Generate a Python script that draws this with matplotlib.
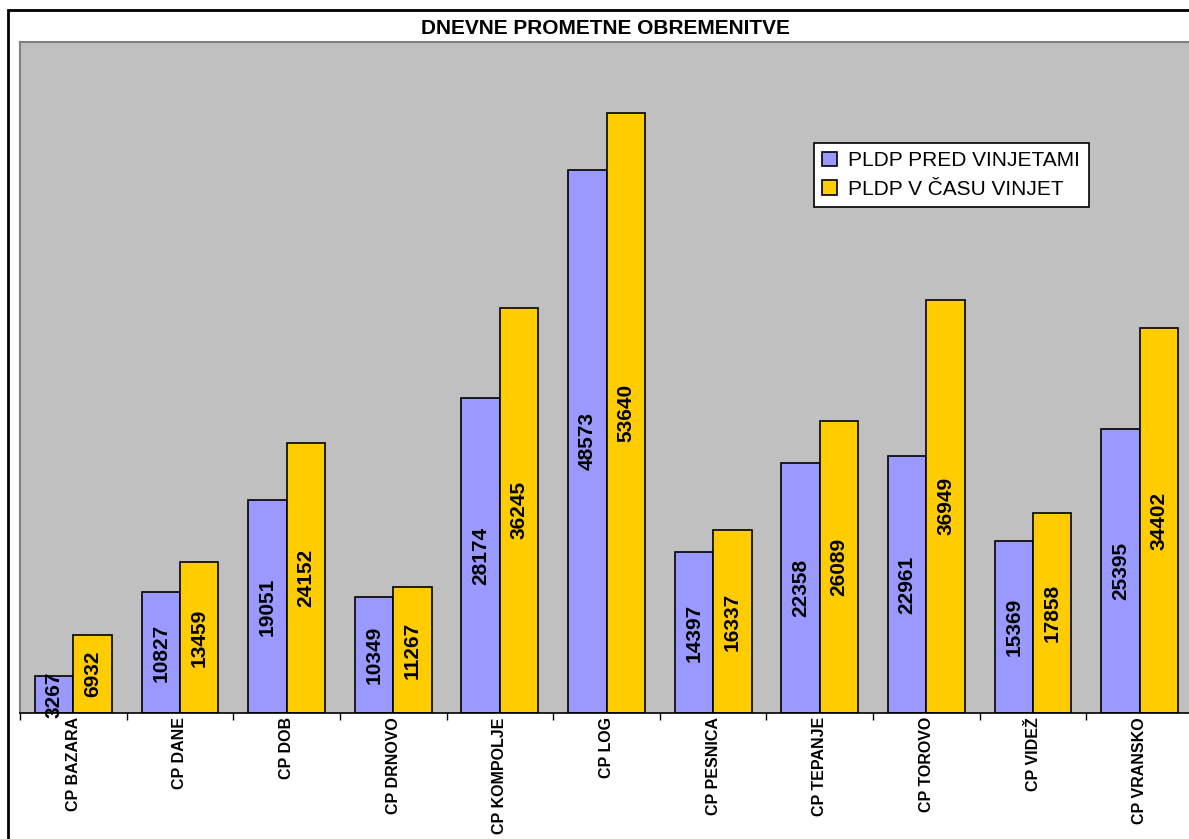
import matplotlib
matplotlib.use('Agg')

import matplotlib.pyplot as plt
from matplotlib.patches import Rectangle

plt.rcParams['font.family'] = ['Liberation Sans', 'DejaVu Sans']

# podatki
postaje = ['CP BAZARA', 'CP DANE', 'CP DOB', 'CP DRNOVO', 'CP KOMPOLJE', 'CP LOG',
           'CP PESNICA', 'CP TEPANJE', 'CP TOROVO', 'CP VIDEŽ', 'CP VRANSKO']
pred_vinjetami = [3267, 10827, 19051, 10349, 28174, 48573, 14397, 22358, 22961, 15369, 25395]
cas_vinjet = [6932, 13459, 24152, 11267, 36245, 53640, 16337, 26089, 36949, 17858, 34402]
serije = ['PLDP PRED VINJETAMI', 'PLDP V ČASU VINJET']

BARVE = ['#9999FF', '#FFCC00']

fig = plt.figure(figsize=(11.89, 8.39), dpi=100)
ax = fig.add_axes([20 / 1189, 1 - 713 / 839, 1173 / 1189, (713 - 42) / 839])
ax.set_facecolor('#C0C0C0')

sirina = 0.36
x = list(range(len(postaje)))
for k, (vrednosti, barva) in enumerate(zip([pred_vinjetami, cas_vinjet], BARVE)):
    pos = [i + (k - 0.5) * sirina for i in x]
    ax.bar(pos, vrednosti, width=sirina, color=barva, edgecolor='black',
           linewidth=1.2, label=serije[k], zorder=2)
    for p, v in zip(pos, vrednosti):
        ax.text(p, v / 2, str(v), rotation=90, ha='center', va='center',
                fontsize=15, fontweight='bold', color='black', zorder=3)

ax.set_xlim(-0.5, len(postaje) - 0.5)
ax.set_ylim(0, 60000)
ax.set_yticks([])

ax.set_xticks(x)
ax.set_xticklabels(postaje, rotation=90, fontsize=11.5, fontweight='bold', va='top')
ax.tick_params(axis='x', which='major', length=0, pad=3)
ax.set_xticks([i + 0.5 for i in range(-1, len(postaje))], minor=True)
ax.tick_params(axis='x', which='minor', length=5, width=1, color='black')

for s in ['top', 'left']:
    ax.spines[s].set_color('#808080')
    ax.spines[s].set_linewidth(1.5)
ax.spines['right'].set_visible(False)
ax.spines['bottom'].set_color('black')
ax.spines['bottom'].set_linewidth(1.2)

fig.text(605 / 1189, 1 - 29 / 839, 'DNEVNE PROMETNE OBREMENITVE', ha='center', va='center',
         fontsize=15, fontweight='bold')

leg = ax.legend(loc='upper left', bbox_to_anchor=((814 - 20) / 1173, (713 - 143) / 671),
                frameon=True, fancybox=False, fontsize=15, handlelength=0.7,
                handleheight=0.7, handletextpad=0.55, borderpad=0.4, labelspacing=0.45,
                borderaxespad=0)
leg.get_frame().set_edgecolor('black')
leg.get_frame().set_linewidth(1.2)
leg.get_frame().set_facecolor('white')
leg.get_frame().set_alpha(1)

fig.patches.append(Rectangle((8 / 1189, -0.1), 1.2, 1 - 10 / 839 + 0.1, fill=False,
                             edgecolor='black', linewidth=2, transform=fig.transFigure))

plt.savefig('out.png', dpi=100)
